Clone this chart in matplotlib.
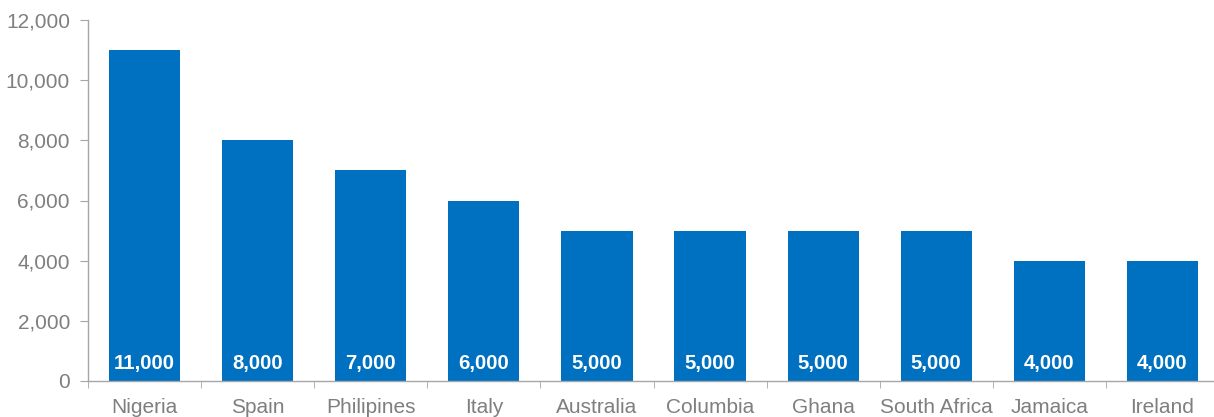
import matplotlib
matplotlib.use("Agg")
import matplotlib.pyplot as plt
from matplotlib.ticker import FuncFormatter, FixedLocator
import numpy as np

categories = ["Nigeria", "Spain", "Philipines", "Italy", "Australia", "Columbia",
              "Ghana", "South Africa", "Jamaica", "Ireland"]
values = [11000, 8000, 7000, 6000, 5000, 5000, 5000, 5000, 4000, 4000]

plt.rcParams['font.family'] = ['Liberation Sans', 'DejaVu Sans']

fig = plt.figure(figsize=(12.14, 4.17), dpi=100)
ax = fig.add_axes([88/1214, 36/417, (1219-88)/1214, 361/417])

x = np.arange(len(categories))
bars = ax.bar(x, values, width=0.63, color="#0070C0", zorder=2)

for xi, v in zip(x, values):
    ax.annotate(f"{v:,}", (xi, 0), xytext=(0, 12.8), textcoords="offset points",
                ha="center", va="center", color="white", fontsize=14.7,
                fontweight="bold", zorder=3)

ax.set_xlim(-0.5, len(categories) - 0.5)
ax.set_ylim(0, 12000)
ax.set_yticks(np.arange(0, 12001, 2000))
ax.yaxis.set_major_formatter(FuncFormatter(lambda v, p: f"{int(v):,}"))

ax.set_xticks(x)
ax.set_xticklabels(categories)
ax.xaxis.set_minor_locator(FixedLocator(np.arange(-0.5, len(categories), 1.0)))

gray = "#A6A6A6"
for s in ["top", "right"]:
    ax.spines[s].set_visible(False)
for s in ["left", "bottom"]:
    ax.spines[s].set_color(gray)
    ax.spines[s].set_linewidth(1)

ax.tick_params(axis="y", which="major", length=6, color=gray, labelsize=15,
               labelcolor="#7F7F7F", pad=7)
ax.tick_params(axis="x", which="major", length=0, labelsize=15,
               labelcolor="#7F7F7F", pad=12.5)
ax.tick_params(axis="x", which="minor", length=5, color=gray)

fig.savefig("out.png", dpi=100)
